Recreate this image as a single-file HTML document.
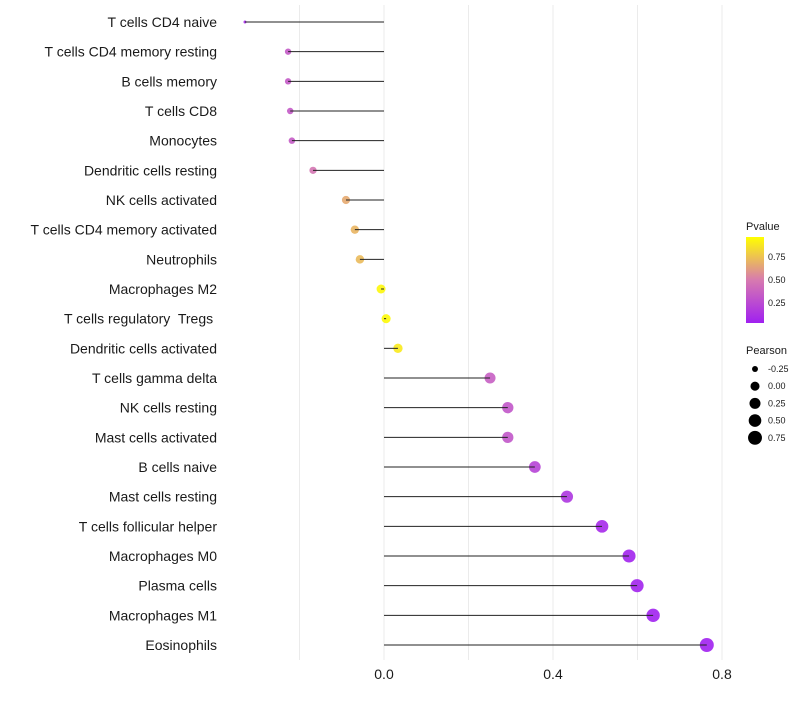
<!DOCTYPE html>
<html><head><meta charset="utf-8"><style>
body{margin:0;background:#fff;font-family:"Liberation Sans",sans-serif}
text{white-space:pre}
</style></head><body>
<svg id="c" width="800" height="700" xmlns="http://www.w3.org/2000/svg"></svg>
<script>
const categories=["T cells CD4 naive","T cells CD4 memory resting","B cells memory","T cells CD8","Monocytes","Dendritic cells resting","NK cells activated","T cells CD4 memory activated","Neutrophils","Macrophages M2","T cells regulatory  Tregs ","Dendritic cells activated","T cells gamma delta","NK cells resting","Mast cells activated","B cells naive","Mast cells resting","T cells follicular helper","Macrophages M0","Plasma cells","Macrophages M1","Eosinophils"];
const pearson=[-0.329,-0.227,-0.227,-0.222,-0.218,-0.168,-0.090,-0.069,-0.057,-0.007,0.005,0.033,0.251,0.293,0.293,0.357,0.433,0.516,0.580,0.599,0.637,0.764];
const pvalue=[0.05,0.32,0.32,0.32,0.33,0.47,0.68,0.72,0.74,0.97,0.98,0.92,0.35,0.3,0.3,0.2,0.12,0.05,0.02,0.02,0.01,0.005];
const xTicks=[0.0,0.4,0.8];
const gridVals=[-0.2,0,0.2,0.4,0.6,0.8];
const pLegend=[0.25,0.5,0.75];
const sLegend=[-0.25,0,0.25,0.5,0.75];
const NS="http://www.w3.org/2000/svg",svg=document.getElementById('c');
const X=v=>384+v*422.5, Y=i=>22+i*29.667;
const R=v=>{const t=Math.max(0,(v+0.329)/1.093);return 1.5+Math.sqrt(t)*5.5};
function col(p){const a=[160,32,240],m=[215,122,175],b=[255,255,0];let c;
 if(p<0.5){const t=p/0.5;c=a.map((x,k)=>x+(m[k]-x)*t)}else{const t=(p-0.5)/0.5;c=m.map((x,k)=>x+(b[k]-x)*t)}
 return `rgb(${c.map(Math.round).join(',')})`}
function el(t,a,txt){const e=document.createElementNS(NS,t);for(const k in a)e.setAttribute(k,a[k]);if(txt!==undefined)e.textContent=txt;svg.appendChild(e);return e}
gridVals.forEach(g=>{const e=el('line',{x1:X(g),x2:X(g),y1:5,y2:660,stroke:'#ebebeb','stroke-width':1});

});
categories.forEach((c,i)=>{
 const t=el('text',{x:217,y:Y(i)+5,'text-anchor':'end','font-size':14,fill:'#1a1a1a'},c);
 
 
 const p=el('circle',{cx:X(pearson[i]),cy:Y(i),r:R(pearson[i]),fill:col(pvalue[i]),'fill-opacity':0.9});
 
 
 const s=el('line',{x1:X(0),x2:X(pearson[i]),y1:Y(i),y2:Y(i),stroke:'#222','stroke-width':1});
 
 
});
xTicks.forEach(v=>{const t=el('text',{x:X(v),y:679,'text-anchor':'middle','font-size':14,fill:'#1a1a1a'},v.toFixed(1));

});
let t=el('text',{x:746,y:230,'font-size':11,fill:'#1a1a1a'},'Pvalue');


const defs=el('defs',{});const lg=document.createElementNS(NS,'linearGradient');
lg.setAttribute('id','g');lg.setAttribute('x1',0);lg.setAttribute('y1',1);lg.setAttribute('x2',0);lg.setAttribute('y2',0);
[0,0.25,0.5,0.75,1].forEach(o=>{const s=document.createElementNS(NS,'stop');s.setAttribute('offset',o);s.setAttribute('stop-color',col(o));lg.appendChild(s)});defs.appendChild(lg);
const bar=el('rect',{x:746,y:237,width:18,height:86,fill:'url(#g)'});


pLegend.forEach(p=>{const y=326-p*92;
 const l=el('text',{x:768,y:y+3,'font-size':9,fill:'#1a1a1a'},p.toFixed(2));
 
 });
t=el('text',{x:746,y:354,'font-size':11,fill:'#1a1a1a'},'Pearson');


sLegend.forEach((v,i)=>{const y=369+i*17.2;
 const c=el('circle',{cx:755,cy:y,r:R(v),fill:'#000'});
 
 
 const l=el('text',{x:768,y:y+3,'font-size':9,fill:'#1a1a1a'},v.toFixed(2));
 
 });
</script>
</body></html>
